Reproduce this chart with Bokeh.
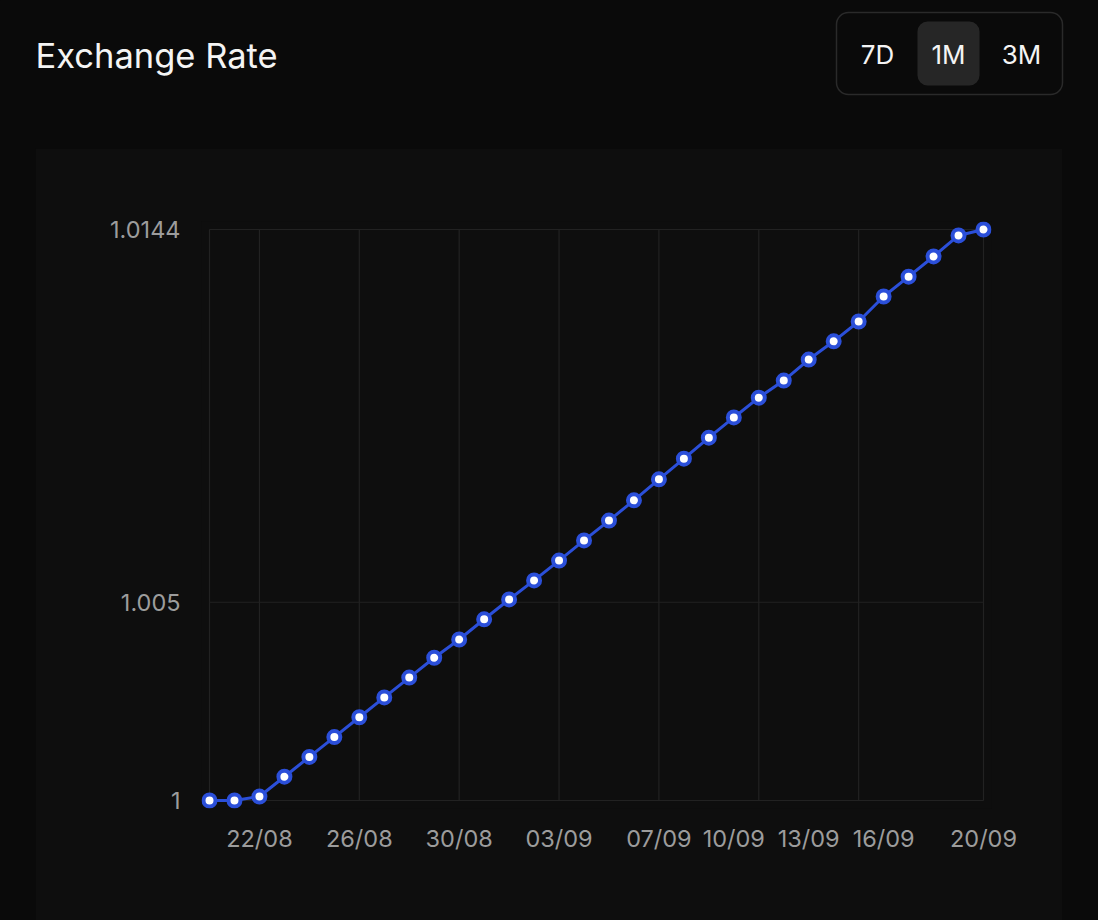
from bokeh.plotting import figure
from bokeh.models import Range1d, FixedTicker, Spacer
from bokeh.layouts import column, row
from bokeh.core.properties import value
from bokeh.embed import file_html
from bokeh.resources import INLINE

# ---------------- data ----------------
title = "Exchange Rate"
periods = ["7D", "1M", "3M"]
selected_period = "1M"

dates = ["20/08", "21/08", "22/08", "23/08", "24/08", "25/08", "26/08", "27/08",
         "28/08", "29/08", "30/08", "31/08", "01/09", "02/09", "03/09", "04/09",
         "05/09", "06/09", "07/09", "08/09", "09/09", "10/09", "11/09", "12/09",
         "13/09", "14/09", "15/09", "16/09", "17/09", "18/09", "19/09", "20/09"]
rates = [1.0000, 1.0000, 1.0001, 1.0006, 1.0011, 1.0016, 1.0021, 1.0026,
         1.0031, 1.0036, 1.00406, 1.00457, 1.00507, 1.00555, 1.00605, 1.00656,
         1.00706, 1.00757, 1.0081, 1.00862, 1.00915, 1.00966, 1.01016, 1.01059,
         1.01112, 1.01158, 1.01208, 1.01271, 1.01321, 1.01372, 1.01425, 1.0144]

x_label_dates = ["22/08", "26/08", "30/08", "03/09", "07/09", "10/09", "13/09", "16/09", "20/09"]
x_grid_dates = ["20/08", "22/08", "26/08", "30/08", "03/09", "07/09", "11/09", "15/09", "20/09"]
y_ticks = [1.0, 1.005, 1.0144]
y_tick_labels = ["1", "1.005", "1.0144"]

# ---------------- style ----------------
PAGE_BG = "#0a0a0a"
PANEL_BG = "#0e0e0e"
GRID = "#222222"
TICK_TEXT = "#9c9c9c"
BLUE = "#2b4fd9"
FONT = "Inter"

# ---------------- header ----------------
HW, HH = 1098, 148
header = figure(width=HW, height=HH, x_range=Range1d(0, HW), y_range=Range1d(HH, 0),
                output_backend="svg", toolbar_location=None, min_border=0,
                x_axis_location=None, y_axis_location=None,
                background_fill_color=PAGE_BG, border_fill_color=PAGE_BG,
                outline_line_color=None)
header.grid.visible = False

header.text(x=[35], y=[55], text=[title], text_font=value(FONT), text_font_size="34.5px",
            text_color="#f4f4f4", text_baseline="middle", text_align="left")

header.quad(left=[836], right=[1062], top=[12], bottom=[94], fill_color=PAGE_BG,
            line_color="#2a2a2a", line_width=1.5, border_radius=12)
btn_x = [877, 948, 1021]
sel = periods.index(selected_period)
header.quad(left=[btn_x[sel] - 31], right=[btn_x[sel] + 31], top=[21], bottom=[85],
            fill_color="#262626", line_color=None, border_radius=10)
header.text(x=btn_x, y=[54] * len(periods), text=periods, text_font=value(FONT),
            text_font_size="26px", text_color="#f4f4f4", text_baseline="middle",
            text_align="center")

# ---------------- chart ----------------
CX = 35
CW, CH = 1027, 772
LEFT, RIGHT, TOP, BOTTOM = 166, 71, 73, 112
PAD = 8
FRAME_W = CW - LEFT - RIGHT
FRAME_H = CH - TOP - BOTTOM

n = len(dates)
xs = list(range(n))
x_span = n - 1
x_pad = PAD * x_span / (FRAME_W - 2 * PAD)
y_lo, y_hi = y_ticks[0], y_ticks[-1]
y_pad = PAD * (y_hi - y_lo) / (FRAME_H - 2 * PAD)

chart = figure(width=CW, height=CH,
               x_range=Range1d(-x_pad, x_span + x_pad),
               y_range=Range1d(y_lo - y_pad, y_hi + y_pad),
               output_backend="svg", toolbar_location=None,
               min_border_left=LEFT, min_border_right=RIGHT,
               min_border_top=TOP, min_border_bottom=BOTTOM,
               background_fill_color=PANEL_BG, border_fill_color=PANEL_BG,
               outline_line_color=None)

# axes
chart.xaxis.ticker = FixedTicker(ticks=[dates.index(d) for d in x_label_dates])
chart.xaxis.major_label_overrides = {dates.index(d): d for d in x_label_dates}
chart.yaxis.ticker = FixedTicker(ticks=y_ticks)
chart.yaxis.major_label_overrides = {t: l for t, l in zip(y_ticks, y_tick_labels)}
for ax in (chart.xaxis, chart.yaxis):
    ax.axis_line_color = None
    ax.major_tick_line_color = None
    ax.minor_tick_line_color = None
    ax.major_tick_out = 0
    ax.major_tick_in = 0
    ax.major_label_text_font = FONT
    ax.major_label_text_font_size = "23.5px"
    ax.major_label_text_color = TICK_TEXT
chart.xaxis.major_label_standoff = 15
chart.yaxis.major_label_standoff = 21

# grid: lines bounded by the tick extremes (cartesian grid box)
chart.grid.visible = False
gx = [dates.index(d) for d in x_grid_dates]
x_lo, x_hi = xs[0], xs[-1]
chart.segment(x0=gx, y0=[y_lo] * len(gx), x1=gx, y1=[y_hi] * len(gx),
              line_color=GRID, line_width=1.2)
chart.segment(x0=[x_lo] * len(y_ticks), y0=y_ticks, x1=[x_hi] * len(y_ticks), y1=y_ticks,
              line_color=GRID, line_width=1.2)

# series
chart.line(xs, rates, line_color=BLUE, line_width=3)
chart.scatter(xs, rates, size=12, fill_color="white", line_color=BLUE, line_width=4)

layout = column(header, row(Spacer(width=CX, height=CH), chart))

html = file_html(layout, INLINE)
html = html.replace("</head>",
                    "<style>html,body{background:%s;margin:0;padding:0;overflow:hidden;}</style></head>" % PAGE_BG, 1)
open("out.html", "w").write(html)
